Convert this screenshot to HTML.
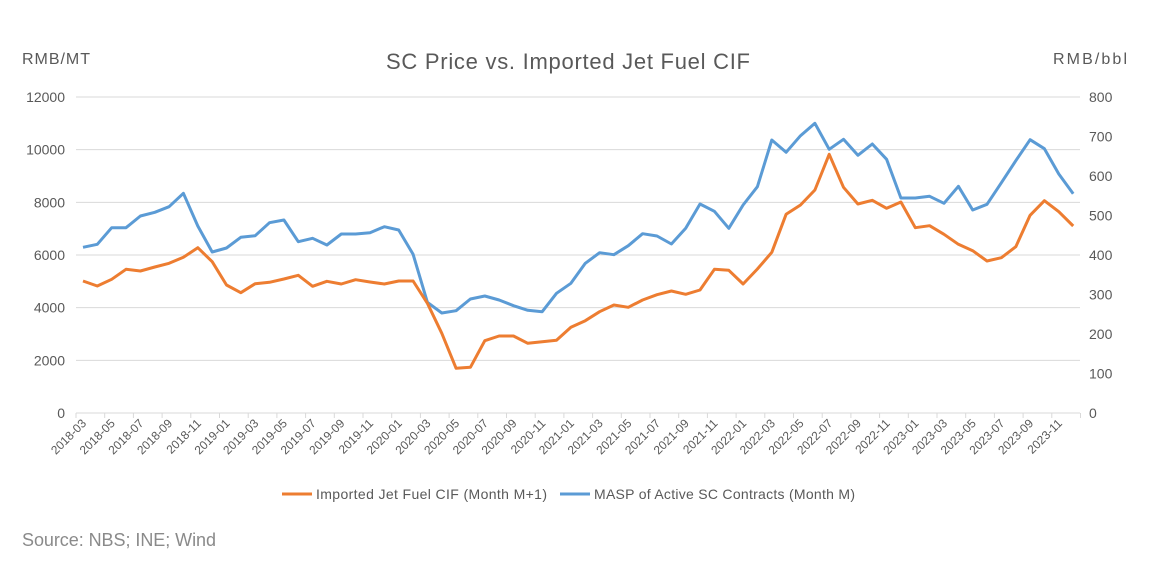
<!DOCTYPE html>
<html><head><meta charset="utf-8"><style>
body{margin:0;background:#fff;}
svg{display:block;font-family:"Liberation Sans",sans-serif;}
</style></head><body>
<svg id="s" width="1164" height="582" xmlns="http://www.w3.org/2000/svg">
<rect width="1164" height="582" fill="#fff"/>
<text x="568" y="69" text-anchor="middle" font-size="22" fill="#595959" textLength="364">SC Price vs. Imported Jet Fuel CIF</text>
<text x="22" y="64" font-size="16" fill="#595959" textLength="68">RMB/MT</text>
<text x="1053" y="64" font-size="16" fill="#595959" textLength="74">RMB/bbl</text>
<g id="grid" stroke="#d9d9d9" stroke-width="1"></g>
<g id="lab" font-size="14" fill="#595959"></g>
<g id="xl" font-size="12" fill="#595959"></g>
<polyline id="bl" fill="none" stroke="#5b9bd5" stroke-width="3" stroke-linejoin="round"/>
<polyline id="or" fill="none" stroke="#ed7d31" stroke-width="3" stroke-linejoin="round"/>
<line x1="282" y1="494" x2="312" y2="494" stroke="#ed7d31" stroke-width="3"/>
<text x="316" y="499" font-size="14" fill="#595959" textLength="231">Imported Jet Fuel CIF (Month M+1)</text>
<line x1="560" y1="494" x2="590" y2="494" stroke="#5b9bd5" stroke-width="3"/>
<text x="594" y="499" font-size="14" fill="#595959" textLength="261">MASP of Active SC Contracts (Month M)</text>
<text x="22" y="546" font-size="18" fill="#8a8a8a" textLength="194">Source: NBS; INE; Wind</text>
</svg>
<script>
var NS="http://www.w3.org/2000/svg";
function el(t,a,p,txt){var e=document.createElementNS(NS,t);for(var k in a)e.setAttribute(k,a[k]);if(txt!=null)e.textContent=txt;p.appendChild(e);return e;}
var g=document.getElementById('grid'),lab=document.getElementById('lab'),xl=document.getElementById('xl');
for(var i=0;i<=6;i++){var y=413-i*52.67;
 if(i>0)el('line',{x1:76,x2:1080,y1:y,y2:y},g);
 el('text',{x:65,y:y+5,'text-anchor':'end'},lab,String(i*2000));}
for(var v=0;v<=800;v+=100){el('text',{x:1089,y:413-v*0.39504+5},lab,String(v));}
el('line',{x1:76,x2:1080,y1:413,y2:413},g);
for(var k=0;k<=35;k++){var x=76+k*28.7;el('line',{x1:x,x2:x,y1:413,y2:418},g);}
for(var c=0;c<70;c+=2){var mm=(2+c)%12+1,yy=2018+Math.floor((2+c)/12);
 var x=83+c*14.35;var s=yy+'-'+(mm<10?'0':'')+mm;
 el('text',{x:x+4,y:424,'text-anchor':'end',transform:'rotate(-45 '+(x+4)+' 424)'},xl,s);}
var b1=[232,223,173,173,138,127,110,70,168,246,234,202,197,158,150,215,205,225,192,192,188,170,180,253,397,429,422,387,378,390,407,421,425,370];
var b2=[520,460,428,434,407,371,378,402,355,282,304,355,285,230,90,127,77,40,118,88,136,102,148,264,264,259,280,229,300,283,218,152,89,116,192,251];
var o1=[333,348,328,298,303,291,280,262,233,275,345,368,341,337,327,316,349,334,342,329,336,342,333,333,400,490,595,592,512,498,498,520,515,511];
var o2=[652,632,605,585,592,570,554,543,553,540,478,481,522,477,427,313,285,240,133,232,282,271,295,276,353,347,373,403,422,453,443,410,316,272,305,348];
function pts(a1,a2){var p=[];for(var i=0;i<a1.length;i++)p.push((83+i*14.35).toFixed(1)+','+(170+a1[i]/3).toFixed(1));
 for(var i=0;i<a2.length;i++)p.push((83+(34+i)*14.35).toFixed(1)+','+(110+a2[i]/3).toFixed(1));return p.join(' ');}
document.getElementById('bl').setAttribute('points',pts(b1,b2));
document.getElementById('or').setAttribute('points',pts(o1,o2));
</script>
</body></html>
